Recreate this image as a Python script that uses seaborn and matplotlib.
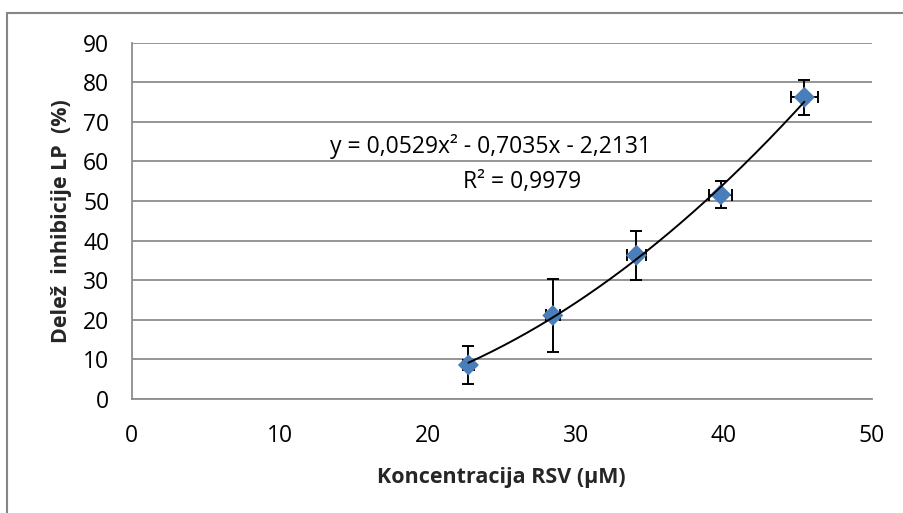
import numpy as np
import pandas as pd
import matplotlib
matplotlib.use("Agg")
import matplotlib.pyplot as plt
import seaborn as sns
from matplotlib.lines import Line2D

# Measured data
concentration = [22.75, 28.45, 34.1, 39.8, 45.45]      # µM
inhibition = [8.6, 21.1, 36.3, 51.6, 76.2]             # %
inhibition_err = [4.8, 9.1, 6.2, 3.4, 4.4]
concentration_err = [0.35, 0.46, 0.64, 0.78, 0.9]

# Second-order polynomial trendline coefficients
trend_coef = [0.0529, -0.7035, -2.2131]
trend_label = "y = 0,0529x² - 0,7035x - 2,2131"
r2_label = "R² = 0,9979"

x_ticks = [0, 10, 20, 30, 40, 50]
y_ticks = [0, 10, 20, 30, 40, 50, 60, 70, 80, 90]

sns.set_theme(style="white")
plt.rcParams["font.family"] = ["Open Sans", "DejaVu Sans"]

FS = 16.5
LFS = 15.5

df = pd.DataFrame({"x": concentration, "y": inhibition})

fig = plt.figure(figsize=(9.04, 5.13), dpi=100)
ax = fig.add_axes([0.1457, 0.2222, 0.9643 - 0.1457, 0.9168 - 0.2222])

grid_col = "#8c8c8c"
ax.set_xlim(0, 50)
ax.set_ylim(0, 90)
ax.set_yticks(y_ticks)
ax.set_xticks(x_ticks)
ax.yaxis.grid(True, color=grid_col, linewidth=1.3)
ax.xaxis.grid(False)
ax.set_axisbelow(True)

# error bars
ax.errorbar(concentration, inhibition, yerr=inhibition_err, xerr=concentration_err,
            fmt="none", ecolor="black", elinewidth=1.4, capsize=4.2, capthick=1.4,
            zorder=2)

# markers
sns.scatterplot(data=df, x="x", y="y", marker="D", s=115, color="#4a7ebb",
                edgecolor="none", linewidth=0, ax=ax, zorder=3)

# trendline across the data range
xt = np.linspace(min(concentration), max(concentration), 200)
trend_df = pd.DataFrame({"x": xt, "y": np.polyval(trend_coef, xt)})
sns.lineplot(data=trend_df, x="x", y="y", color="black", linewidth=1.4,
             ax=ax, zorder=4)

ax.text(490, 513 - 146.7, trend_label, transform=None, fontsize=FS,
        ha="center", va="center", color="black")
ax.text(522, 513 - 181.7, r2_label, transform=None, fontsize=FS,
        ha="center", va="center", color="black")

# spines
for s in ["top", "right"]:
    ax.spines[s].set_visible(False)
for s in ["left", "bottom"]:
    ax.spines[s].set_color(grid_col)
    ax.spines[s].set_linewidth(1.3)

ax.tick_params(axis="both", which="major", direction="out", length=6,
               width=1.3, color=grid_col, labelsize=FS, labelcolor="black")
ax.tick_params(axis="y", pad=10)
ax.tick_params(axis="x", pad=12)
ax.set_xticklabels([str(v) for v in x_ticks])
ax.set_yticklabels([str(v) for v in y_ticks])

ax.set_xlabel("Koncentracija RSV (µM)", fontsize=LFS, fontweight="bold", labelpad=14)
ax.set_ylabel("Delež  inhibicije LP  (%)", fontsize=LFS, fontweight="bold", labelpad=8)

# chart area border (left and top edges)
W, H = 904, 513
fig.add_artist(Line2D([7 / W, 7 / W], [0, 1 - 13 / H], transform=fig.transFigure,
                      color="#868686", linewidth=1.5))
fig.add_artist(Line2D([7 / W, 1], [1 - 13 / H, 1 - 13 / H], transform=fig.transFigure,
                      color="#868686", linewidth=1.5))

fig.savefig("out.png", dpi=100)
